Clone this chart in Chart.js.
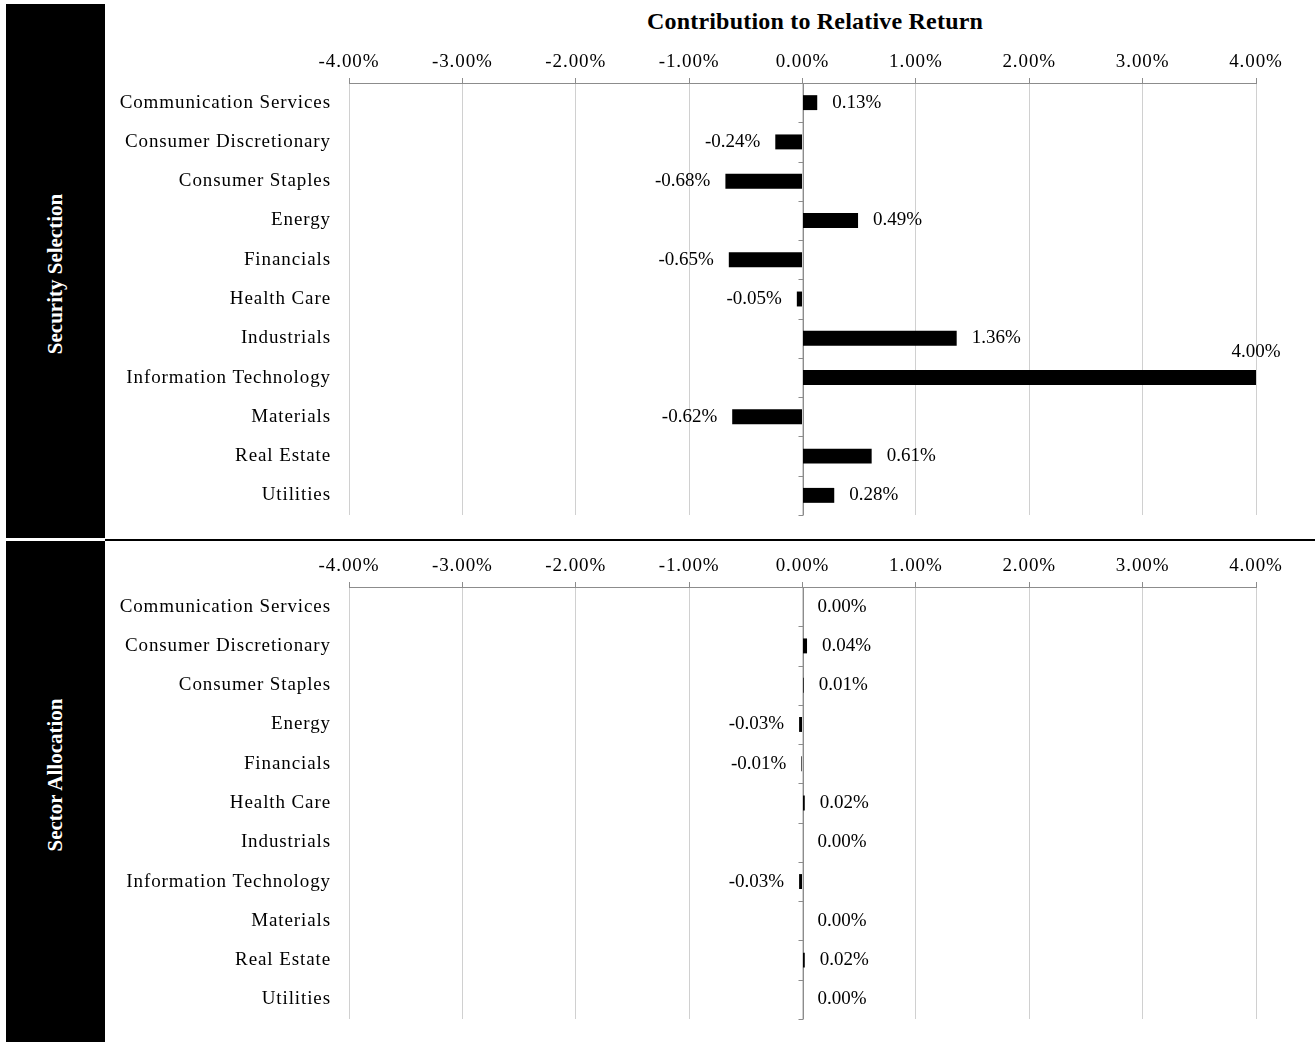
<!DOCTYPE html>
<html>
<head>
<meta charset="utf-8">
<script src="https://cdn.jsdelivr.net/npm/chart.js@4.4.1/dist/chart.umd.min.js"></script>
<style>
    body { margin: 0; background: #fff; }
    #wrap { position: relative; width: 1315px; height: 1042px; overflow: hidden; font-family: 'Liberation Serif', 'Times New Roman', serif; }
    .band { position: absolute; left: 6px; width: 99px; background: #000; }
    .bandText { position: absolute; left: 55px; color: #fff; font-weight: bold; font-size: 21px; white-space: nowrap; transform: translate(-50%, -50%) rotate(-90deg); }
    .box { position: absolute; left: 105px; width: 1210px; }
    #titulo { position: absolute; left: 815px; top: 21px; transform: translate(-50%, -50%); font-weight: bold; font-size: 24px; letter-spacing: 0.2px; white-space: nowrap; }
    #linha { position: absolute; left: 105px; top: 539px; width: 1210px; height: 2px; background: #000; }
</style>
</head>
<body>
<div id="wrap">
    <div class="band" style="top:4px;height:534px"></div>
    <div class="band" style="top:541px;height:501px"></div>
    <div class="bandText" style="top:274px">Security Selection</div>
    <div class="bandText" style="top:775px">Sector Allocation</div>
    <div id="linha"></div>
    <div id="titulo">Contribution to Relative Return</div>
    <div class="box" style="top:4px;height:534px"><canvas id="grafico1"></canvas></div>
    <div class="box" style="top:541px;height:501px"><canvas id="grafico2"></canvas></div>
</div>
<script>
    const setores = ['Communication Services', 'Consumer Discretionary', 'Consumer Staples', 'Energy',
        'Financials', 'Health Care', 'Industrials', 'Information Technology', 'Materials',
        'Real Estate', 'Utilities'];
    const selecao = [0.13, -0.24, -0.68, 0.49, -0.65, -0.05, 1.36, 4.00, -0.62, 0.61, 0.28];
    const alocacao = [0.00, 0.04, 0.01, -0.03, -0.01, 0.02, 0.00, -0.03, 0.00, 0.02, 0.00];
    const ticksX = [-4, -3, -2, -1, 0, 1, 2, 3, 4];

    const fonte = "'Liberation Serif', 'Times New Roman', serif";
    Chart.defaults.font.family = fonte;
    Chart.defaults.font.size = 19;
    Chart.defaults.color = '#000';

    function fmt(v) {
        return v.toFixed(2) + '%';
    }

    // texto dos eixos um pouco mais espaçado, como no original
    const espacamento = {
        id: 'espacamento',
        beforeDraw(chart) {
            chart.ctx.letterSpacing = '0.9px';
        }
    };

    // linha do zero com tracinhos entre as categorias
    const eixoZero = {
        id: 'eixoZero',
        beforeDatasetsDraw(chart) {
            const ctx = chart.ctx;
            const x = chart.scales.x;
            const y = chart.scales.y;
            const x0 = Math.round(x.getPixelForValue(0)) + 0.5;
            ctx.save();
            ctx.strokeStyle = '#8c8c8c';
            ctx.lineWidth = 1;
            ctx.beginPath();
            ctx.moveTo(x0, chart.chartArea.top);
            ctx.lineTo(x0, chart.chartArea.bottom);
            for (let i = 0; i <= setores.length; i++) {
                const yy = Math.round(y.getPixelForValue(i - 0.5)) + 0.5;
                ctx.moveTo(x0 - 5, yy);
                ctx.lineTo(x0, yy);
            }
            ctx.stroke();
            ctx.restore();
        }
    };

    // rotulos de valor
    const rotulos = {
        id: 'rotulos',
        afterDatasetsDraw(chart) {
            const ctx = chart.ctx;
            const meta = chart.getDatasetMeta(0);
            const dados = chart.data.datasets[0].data;
            ctx.save();
            ctx.letterSpacing = '0px';
            ctx.font = '19px ' + fonte;
            ctx.fillStyle = '#000';
            ctx.textBaseline = 'middle';
            meta.data.forEach((bar, i) => {
                const v = dados[i];
                const txt = fmt(v);
                const w = ctx.measureText(txt).width;
                if (v >= 0) {
                    if (bar.x + 15 + w > chart.width) {
                        ctx.textAlign = 'center';
                        ctx.fillText(txt, bar.x, bar.y - 26);
                    } else {
                        ctx.textAlign = 'left';
                        ctx.fillText(txt, bar.x + 15, bar.y);
                    }
                } else {
                    ctx.textAlign = 'right';
                    ctx.fillText(txt, bar.x - 15, bar.y);
                }
            });
            ctx.restore();
        }
    };

    function grafico(id, valores, alturaEixo) {
        const graf = document.getElementById(id);
        return new Chart(graf.getContext('2d'), {
            type: 'bar',
            data: {
                labels: setores,
                datasets: [{
                    data: valores,
                    backgroundColor: '#000',
                    borderWidth: 0,
                    barPercentage: 0.38,
                    categoryPercentage: 1
                }]
            },
            options: {
                indexAxis: 'y',
                responsive: true,
                maintainAspectRatio: false,
                animation: false,
                layout: { padding: { top: 0, right: 59, bottom: 23, left: 0 } },
                plugins: {
                    legend: { display: false },
                    tooltip: { enabled: false }
                },
                scales: {
                    x: {
                        position: 'top',
                        min: -4,
                        max: 4,
                        afterBuildTicks: function (scale) {
                            scale.ticks = ticksX.map(v => ({ value: v }));
                        },
                        afterFit: function (scale) {
                            scale.height = alturaEixo;
                        },
                        ticks: {
                            padding: 5,
                            maxRotation: 0,
                            callback: v => fmt(v)
                        },
                        grid: {
                            color: '#d0d0d0',
                            tickColor: '#8c8c8c',
                            tickLength: 5
                        },
                        border: { display: true, color: '#8c8c8c' }
                    },
                    y: {
                        afterFit: function (scale) {
                            scale.width = 244;
                            scale.paddingTop = 0;
                            scale.paddingBottom = 0;
                        },
                        grid: { display: false, drawTicks: false },
                        border: { display: false },
                        ticks: { padding: 18 }
                    }
                }
            },
            plugins: [espacamento, eixoZero, rotulos]
        });
    }

    grafico('grafico1', selecao, 79);
    grafico('grafico2', alocacao, 46);
</script>
</body>
</html>
